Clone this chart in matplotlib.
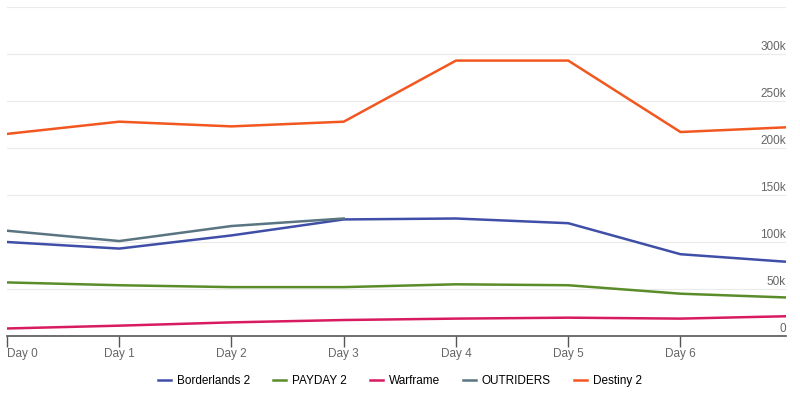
import numpy as np
import matplotlib.pyplot as plt

plt.rcParams['font.family'] = ['Liberation Sans', 'DejaVu Sans']

days = [0, 1, 2, 3, 4, 5, 6, 6.94]
day_labels = ['Day 0', 'Day 1', 'Day 2', 'Day 3', 'Day 4', 'Day 5', 'Day 6']

borderlands = [100000, 93000, 107000, 124000, 125000, 120000, 87000, 79000]
payday = [57000, 54000, 52000, 52000, 55000, 54000, 45000, 41000]
warframe = [8000, 11000, 14500, 17000, 18500, 19500, 18500, 21000]
outriders = [112000, 101000, 117000, 125000]
destiny = [215000, 228000, 223000, 228000, 293000, 293000, 217000, 222000]

yticks = [0, 50000, 100000, 150000, 200000, 250000, 300000]
ytick_labels = ['0', '50k', '100k', '150k', '200k', '250k', '300k']

fig = plt.figure(figsize=(8, 4), dpi=100)
ax = fig.add_axes([7/800, 64/400, 779/800, 329/400])

ax.plot(days, borderlands, color='#3f4fa8', lw=1.8, label='Borderlands 2')
ax.plot(days, payday, color='#5b8c2a', lw=1.8, label='PAYDAY 2')
ax.plot(days, warframe, color='#d81b60', lw=1.8, label='Warframe')
ax.plot(days[:len(outriders)], outriders, color='#5a7582', lw=1.8, label='OUTRIDERS')
ax.plot(days, destiny, color='#f2571f', lw=1.8, label='Destiny 2')

ax.set_xlim(0, 6.94)
ax.set_ylim(0, 350000)

# grid
for v in yticks[1:] + [350000]:
    ax.axhline(v, color='#ebebeb', lw=0.8, zorder=0)
for v, lab in zip(yticks, ytick_labels):
    ax.text(1.0, v + 1500, lab, transform=ax.get_yaxis_transform(), ha='right', va='bottom',
            fontsize=8.5, color='#666666')

ax.set_yticks([])
ax.set_xticks(range(len(day_labels)))
ax.set_xticklabels(day_labels, fontsize=8.5, color='#666666')
ax.get_xticklabels()[0].set_ha('left')
ax.tick_params(axis='x', length=8, width=1, color='#555555', pad=1)

for s in ['top', 'right', 'left']:
    ax.spines[s].set_visible(False)
ax.spines['bottom'].set_color('#555555')
ax.spines['bottom'].set_linewidth(1.2)
ax.patch.set_alpha(0)

fig.legend(loc='center', ncol=5, frameon=False, fontsize=8.5, handlelength=1.1,
           handletextpad=0.5, columnspacing=1.95, bbox_to_anchor=(0.5, 19/400))

fig.savefig('out.png', dpi=100)
